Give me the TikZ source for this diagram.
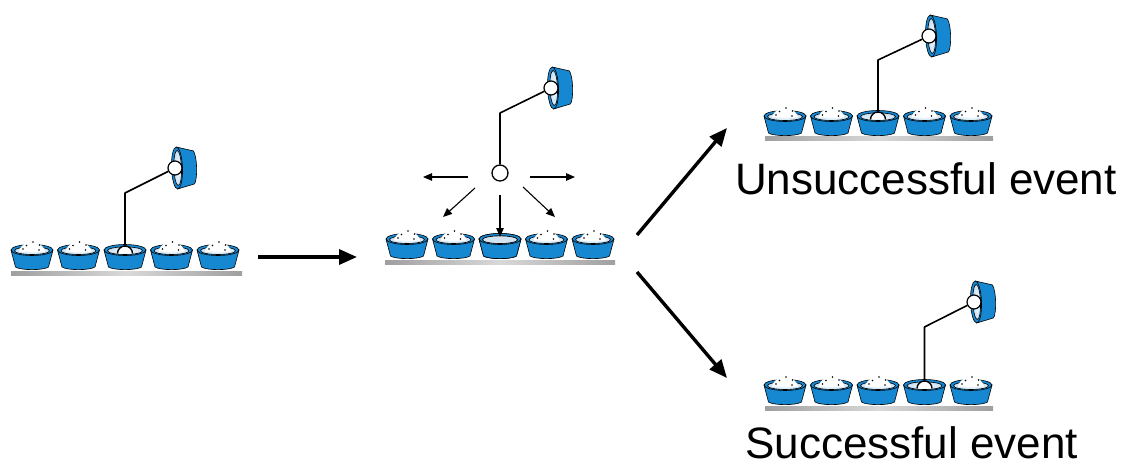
\documentclass[tikz,border=0pt]{standalone}
\usepackage{fontspec}
\setmainfont{Liberation Sans}
\usetikzlibrary{arrows.meta}
\definecolor{cupblue}{RGB}{22,136,210}
\definecolor{innerblue}{RGB}{196,222,242}
\definecolor{emptyblue}{RGB}{210,228,242}

\tikzset{
  outline/.style={draw=black, line width=0.6pt},
  % a sample cup, opening up, origin at the centre of its rim
  pics/cup/.style={code={
    \filldraw[fill=cupblue, outline] (-21,0) -- (-16.5,17)
      .. controls (-11,20.5) and (11,20.5) .. (16.5,17) -- (21,0) -- cycle;
    \filldraw[fill=cupblue, outline] (0,0) ellipse [x radius=21, y radius=5.5];
    \shadedraw[outline, inner color=white, outer color=innerblue]
      (0,0.7) ellipse [x radius=17.5, y radius=3.8];
  }},
  % cup whose content has been taken out
  pics/emptycup/.style={code={
    \pic {cup};
    \filldraw[fill=emptyblue, outline] (0,0.7) ellipse [x radius=17.5, y radius=3.8];
  }},
  % powder heap with its scattered grains
  pics/powder/.style={code={
    \fill[white] (-13,1.5) .. controls (-11,-6) and (-4,-9) .. (0,-9)
      .. controls (4,-9) and (11,-6) .. (13,1.5) -- cycle;
    \foreach \p in {(-9,-1),(-5.5,-4.5),(1,-8),(7.5,-5),(7,0)}
      \fill[black] \p circle [radius=0.9];
  }},
  % tip of the probe resting in a cup
  pics/dome/.style={code={
    \filldraw[fill=white, draw=black, line width=1.4pt]
      (-7.5,3.5) arc [start angle=180, end angle=360, radius=7.5];
  }},
  rail/.style={left color=gray!75, right color=gray!75, middle color=gray!30},
  ball/.style={circle, draw=black, fill=white, line width=1.2pt,
    minimum size=14pt, inner sep=0pt},
  probe/.style={draw=black, line width=1.6pt, line join=round},
  bigarrow/.style={line width=3.4pt, -{Triangle[length=18pt, width=15pt]}},
  smallarrow/.style={line width=1.1pt, -{Triangle[length=9pt, width=7.5pt]}},
  label/.style={anchor=base west, inner sep=0pt,
    font=\fontsize{44}{52}\selectfont},
}

\begin{document}
\begin{tikzpicture}[x=1pt, y=-1pt]
\useasboundingbox (0,0) rectangle (1122,468);

% ---------- row 1: probe sitting in the third cup ----------
\shade[rail] (11,271) rectangle (242,275);
\foreach \i in {0,...,4} \pic at ({32+46.5*\i},250) {cup};
\foreach \i in {0,1,3,4} \pic at ({32+46.5*\i},250) {powder};
\pic at (125,250) {dome};
\pic[rotate=92] at (177,168) {cup};
\node[ball] (hA) at (175,168) {};
\coordinate (tipA) at (125,246);
\coordinate (kneeA) at (125,193);
\draw[probe] (tipA) -- (kneeA) -- (hA);

% ---------- row 2: sample released ----------
\shade[rail] (385,260) rectangle (615,264);
\foreach \i in {0,...,4} \pic at ({407+46.5*\i},239) {cup};
\foreach \i in {0,1,3,4} \pic at ({407+46.5*\i},239) {powder};
\pic at (500,239) {emptycup};
\pic[rotate=92] at (553,88) {cup};
\node[ball] (hB) at (551,88) {};
\node[ball, minimum size=16pt, line width=1.3pt] (cB) at (500,173) {};
\coordinate (kneeB) at (500,113);
\draw[probe] (cB) -- (kneeB) -- (hB);

% scattering directions
\coordinate (sLs) at (468,177); \coordinate (sLe) at (423,177);
\coordinate (sRs) at (530,177); \coordinate (sRe) at (575,177);
\coordinate (sDLs) at (475,188); \coordinate (sDLe) at (443,217);
\coordinate (sDs) at (500,195); \coordinate (sDe) at (500,237);
\coordinate (sDRs) at (523,187); \coordinate (sDRe) at (555,217);
\draw[smallarrow] (sLs) -- (sLe);
\draw[smallarrow] (sRs) -- (sRe);
\draw[smallarrow] (sDLs) -- (sDLe);
\draw[smallarrow] (sDs) -- (sDe);
\draw[smallarrow] (sDRs) -- (sDRe);

% ---------- row 3: unsuccessful event ----------
\shade[rail] (765,137) rectangle (993,141);
\foreach \i in {0,...,4} \pic at ({785+46.5*\i},116) {cup};
\foreach \i in {0,1,3,4} \pic at ({785+46.5*\i},116) {powder};
\pic at (878,116) {dome};
\pic[rotate=92] at (931,36) {cup};
\node[ball] (hC) at (929,36) {};
\coordinate (tipC) at (878,112);
\coordinate (kneeC) at (878,60);
\draw[probe] (tipC) -- (kneeC) -- (hC);
\node[label] (tC) at (735,194) {Unsuccessful event};

% ---------- row 4: successful event ----------
\shade[rail] (765,406) rectangle (993,410);
\foreach \i in {0,...,4} \pic at ({785+46.5*\i},385) {cup};
\foreach \i in {0,1,2,4} \pic at ({785+46.5*\i},385) {powder};
\pic at (924.5,385) {dome};
\pic[rotate=92] at (976,302) {cup};
\node[ball] (hD) at (974,302) {};
\coordinate (tipD) at (924.5,381);
\coordinate (kneeD) at (924.5,327);
\draw[probe] (tipD) -- (kneeD) -- (hD);
\node[label] (tD) at (745,458) {Successful event};

% ---------- process arrows ----------
\coordinate (a1s) at (258,257); \coordinate (a1e) at (357,257);
\coordinate (a2s) at (637,235); \coordinate (a2e) at (727,128);
\coordinate (a3s) at (637,272); \coordinate (a3e) at (727,378);
\draw[bigarrow] (a1s) -- (a1e);
\draw[bigarrow] (a2s) -- (a2e);
\draw[bigarrow] (a3s) -- (a3e);
\end{tikzpicture}
\end{document}
